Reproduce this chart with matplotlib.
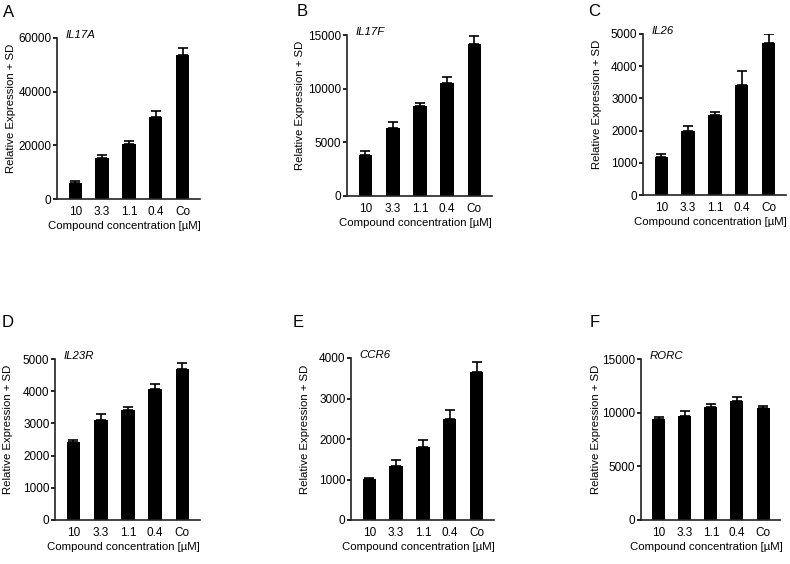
import matplotlib
matplotlib.use("Agg")
import matplotlib.pyplot as plt
import numpy as np

plt.rcParams['font.family'] = ['Liberation Sans', 'DejaVu Sans']

conc = ["10", "3.3", "1.1", "0.4", "Co"]

genes = ["IL17A", "IL17F", "IL26", "IL23R", "CCR6", "RORC"]
letters = ["A", "B", "C", "D", "E", "F"]

il17a = [6000, 15400, 20500, 30600, 53800]
il17a_sd = [600, 900, 1000, 2300, 2500]
il17f = [3800, 6370, 8390, 10560, 14190]
il17f_sd = [360, 530, 270, 530, 690]
il26 = [1170, 1980, 2500, 3430, 4710]
il26_sd = [100, 170, 80, 430, 280]
il23r = [2410, 3100, 3420, 4060, 4680]
il23r_sd = [60, 190, 100, 170, 190]
ccr6 = [1010, 1330, 1810, 2490, 3660]
ccr6_sd = [20, 150, 160, 220, 230]
rorc = [9450, 9700, 10540, 11060, 10470]
rorc_sd = [150, 430, 260, 410, 130]

values = [il17a, il17f, il26, il23r, ccr6, rorc]
errors = [il17a_sd, il17f_sd, il26_sd, il23r_sd, ccr6_sd, rorc_sd]
ymax = [60000, 15000, 5000, 5000, 4000, 15000]
ystep = [20000, 5000, 1000, 1000, 1000, 5000]

W, H = 790, 564
fig = plt.figure(figsize=(W / 100, H / 100), dpi=100)

# axes boxes in pixels: left, top, right, bottom
boxes = [(57, 38, 200, 199), (347, 35, 492, 196), (643, 34, 786, 195),
         (55, 359, 200, 520), (351, 358, 494, 520), (641, 359, 780, 520)]
letter_pos = [(3, 17), (297, 16), (588, 16), (2, 327), (293, 327), (590, 327)]

for i in range(6):
    l, t, r, b = boxes[i]
    ax = fig.add_axes([l / W, 1 - b / H, (r - l) / W, (b - t) / H])
    x = np.arange(len(conc))
    ax.bar(x, values[i], width=0.5, color="black")
    ax.errorbar(x, values[i], yerr=[np.zeros(len(conc)), errors[i]], fmt="none",
                ecolor="black", elinewidth=1.2, capsize=3.5, capthick=1.2)
    ax.set_xlim(-0.68, 4.65)
    ax.set_ylim(0, ymax[i])
    ax.set_yticks(np.arange(0, ymax[i] + 1, ystep[i]))
    ax.set_xticks(x)
    ax.set_xticklabels(conc)
    for s in ["top", "right"]:
        ax.spines[s].set_visible(False)
    for s in ["left", "bottom"]:
        ax.spines[s].set_linewidth(1.2)
        ax.spines[s].set_color("#222222")
    ax.tick_params(axis="y", length=3, width=1.2, pad=1, labelsize=8.5)
    ax.tick_params(axis="x", length=0, pad=5, labelsize=8.5)
    ax.set_ylabel("Relative Expression + SD", fontsize=8.2)
    ax.yaxis.set_label_coords(-0.29, 0.56)
    ax.set_xlabel("Compound concentration [\u00b5M]", fontsize=8.2)
    ax.xaxis.set_label_coords(0.47, -0.135)
    ax.text(0.06, 0.985, genes[i], transform=ax.transAxes, fontsize=8.2,
            style="italic", ha="left", va="bottom")
    fig.text(letter_pos[i][0] / W, 1 - letter_pos[i][1] / H, letters[i],
             fontsize=12, ha="left", va="baseline")

fig.savefig("out.png", dpi=100)
